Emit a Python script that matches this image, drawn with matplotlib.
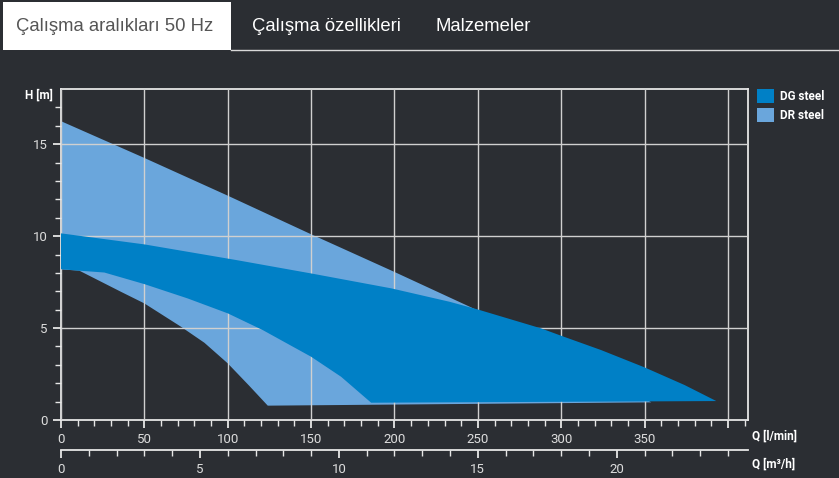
import matplotlib.pyplot as plt
from matplotlib.patches import Rectangle
from matplotlib.lines import Line2D
import numpy as np

# curve data (Q in l/min, H in m)
dg_top_q = [0, 50, 105, 150, 198, 233, 250, 288, 300, 324, 350, 374, 393]
dg_top_h = [10.15, 9.55, 8.7, 7.97, 7.16, 6.43, 6.01, 4.98, 4.58, 3.8, 2.86, 1.9, 1.03]
dg_bot_q = [0, 11, 26, 50, 76, 100, 121, 150, 168, 186, 393]
dg_bot_h = [8.2, 8.12, 8.02, 7.39, 6.61, 5.8, 4.89, 3.44, 2.35, 0.94, 1.03]

dr_top_q = [0, 50, 100, 150, 200, 247, 300, 354]
dr_top_h = [16.25, 14.25, 12.2, 10.1, 8.05, 6.08, 3.7, 0.96]
dr_bot_q = [0, 11, 26, 36, 50, 72, 86, 100, 113, 124, 354]
dr_bot_h = [8.19, 8.12, 7.43, 6.97, 6.34, 5.07, 4.2, 3.08, 1.85, 0.78, 0.96]

tabs = ['Çalışma aralıkları 50 Hz', 'Çalışma özellikleri', 'Malzemeler']
series = ['DG steel', 'DR steel']
colors = ['#0080c6', '#6aa6dc']

bg = '#2b2e33'
W, H = 839, 478
fig = plt.figure(figsize=(W / 100, H / 100), dpi=100, facecolor=bg)
plt.rcParams['font.family'] = ['Roboto', 'DejaVu Sans']

# tab bar
fig.add_artist(Rectangle((3 / W, 1 - 50 / H), 228 / W, 48 / H, transform=fig.transFigure,
                         facecolor='white', edgecolor='none'))
fig.add_artist(Line2D([231 / W, 1], [1 - 50 / H] * 2, transform=fig.transFigure,
                      color='#d9d9d9', lw=1))
tab_x = [16, 252, 435]
tab_c = ['#555555', 'white', 'white']
for name, tx, tc in zip(tabs, tab_x, tab_c):
    fig.text(tx / W, 1 - 31 / H, name, color=tc, fontsize=13.3,
             family='Liberation Sans', va='baseline')

# main chart
x0, x1, y0, y1 = 61, 748, 89, 420
ax = fig.add_axes([x0 / W, 1 - y1 / H, (x1 - x0) / W, (y1 - y0) / H])
ax.set_facecolor(bg)
ax.set_xlim(0, 412)
ax.set_ylim(0, 18)

ax.fill(np.r_[dr_top_q, dr_bot_q[::-1]], np.r_[dr_top_h, dr_bot_h[::-1]],
        color=colors[1], lw=0, label=series[1], zorder=2)
ax.fill(np.r_[dg_top_q, dg_bot_q[::-1]], np.r_[dg_top_h, dg_bot_h[::-1]],
        color=colors[0], lw=0, label=series[0], zorder=3)

ax.set_xticks(range(0, 401, 50))
ax.set_xticklabels([str(v) for v in range(0, 351, 50)] + [''])
ax.set_xticks(range(0, 411, 10), minor=True)
ax.set_yticks(range(0, 16, 5))
ax.set_yticks(range(0, 18), minor=True)
ax.grid(True, which='major', color='#d0d0d0', lw=1.0, zorder=4)
ax.set_axisbelow(False)
for s in ax.spines.values():
    s.set_color('#e6e6e6')
    s.set_linewidth(1.3)
ax.tick_params(which='both', colors='#e6e6e6', labelcolor='#dddddd', labelsize=9.5,
               direction='out')
ax.tick_params(which='major', length=6, width=1.3)
ax.tick_params(which='minor', length=4, width=1)

# second flow axis in m3/h
sec = ax.secondary_xaxis(-30 / (y1 - y0), functions=(lambda q: q * 0.06, lambda m: m / 0.06))
sec.set_xticks(range(0, 21, 5))
sec.set_xticks(range(0, 25), minor=True)
sec.spines['bottom'].set_color('#e6e6e6')
sec.spines['bottom'].set_linewidth(1.3)
sec.tick_params(which='both', colors='#e6e6e6', labelcolor='#dddddd', labelsize=9.5)
sec.tick_params(which='major', length=6, width=1.3)
sec.tick_params(which='minor', length=4, width=1)

fig.text(25 / W, 1 - 95 / H, 'H [m]', color='white', fontsize=8.5, fontweight='bold', va='center')
fig.text(752 / W, 1 - 436 / H, 'Q [l/min]', color='white', fontsize=8.5, fontweight='bold', va='center')
fig.text(752 / W, 1 - 464 / H, 'Q [m³/h]', color='white', fontsize=8.5, fontweight='bold', va='center')

h, l = ax.get_legend_handles_labels()
leg = fig.legend(h[::-1], l[::-1], loc='upper left', bbox_to_anchor=(749 / W, 1 - 81 / H),
                 frameon=False, fontsize=8.5, handlelength=1.4, handleheight=1.4,
                 handletextpad=0.5, labelspacing=0.45, borderpad=0.2)
for t in leg.get_texts():
    t.set_color('white')
    t.set_fontweight('bold')

fig.savefig('out.png', dpi=100, facecolor=bg)
